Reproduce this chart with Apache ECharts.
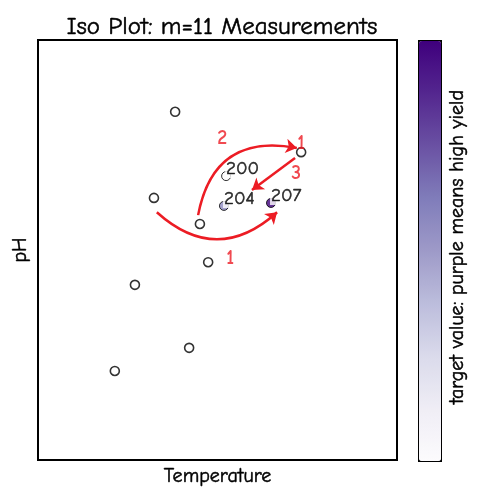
<!DOCTYPE html>
<html>
<head>
<meta charset="utf-8">
<script src="https://cdn.jsdelivr.net/npm/echarts@6/dist/echarts.min.js"></script>
<style>
  html, body { margin: 0; padding: 0; background: #fff; }
  #main { width: 500px; height: 500px; }
</style>
</head>
<body>
<div id="main"></div>
<script>
// measurements without a target value (normalized temperature, pH)
const openPoints = [
  [0.382, 0.829], [0.733, 0.733], [0.323, 0.624], [0.451, 0.562],
  [0.474, 0.471], [0.270, 0.417], [0.421, 0.267], [0.214, 0.212]
];
// measurements with target value: [temperature, pH, yield]
const yieldPoints = [
  [0.524, 0.676, 200],
  [0.518, 0.605, 204],
  [0.649, 0.612, 207]
];
// red hand-drawn arrows: [from, to, curveness]
const arrows = [
  [[0.331, 0.590], [0.666, 0.590], -0.45],
  [[0.446, 0.583], [0.721, 0.743], 0.5],
  [[0.716, 0.719], [0.596, 0.643], 0]
];
const arrowLabels = [
  [0.535, 0.481, '1'],
  [0.513, 0.767, '2'],
  [0.719, 0.683, '3'],
  [0.733, 0.755, '1']
];
const purples = ['#fcfbfd', '#efedf5', '#dadaeb', '#bcbddc', '#9e9ac8',
  '#807dba', '#6a51a3', '#54278f', '#3f007d'];

const font = '"Comic Sans MS", "Comic Neue", "DejaVu Sans", sans-serif';
// slight stroke so the thin fallback font reads as dark as the original
const ink = { color: '#000', textBorderColor: '#000', textBorderWidth: 0.5 };

const chart = echarts.init(document.getElementById('main'));

const option = {
  backgroundColor: '#fff',
  animation: false,
  textStyle: { fontFamily: font },
  title: {
    text: 'Iso Plot: m=11 Measurements',
    left: 217,
    textAlign: 'center',
    top: 9,
    textStyle: Object.assign({ fontFamily: font, fontSize: 25, fontWeight: 'normal' }, ink)
  },
  grid: {
    left: 38, top: 40, width: 359, height: 420,
    show: true, borderColor: '#000', borderWidth: 2, backgroundColor: '#fff'
  },
  xAxis: {
    type: 'value', min: 0, max: 1,
    name: 'Temperature', nameLocation: 'middle', nameGap: 6,
    nameTextStyle: Object.assign({ fontFamily: font, fontSize: 20, verticalAlign: 'top' }, ink),
    axisLine: { show: false }, axisTick: { show: false },
    axisLabel: { show: false }, splitLine: { show: false }
  },
  yAxis: {
    type: 'value', min: 0, max: 1,
    name: 'pH', nameLocation: 'middle', nameGap: 8,
    nameTextStyle: Object.assign({ fontFamily: font, fontSize: 20 }, ink),
    axisLine: { show: false }, axisTick: { show: false },
    axisLabel: { show: false }, splitLine: { show: false }
  },
  visualMap: {
    type: 'continuous',
    min: 200, max: 207,
    dimension: 2,
    seriesIndex: 1,
    left: 418, top: 40,
    itemWidth: 22, itemHeight: 420,
    padding: 0,
    calculable: false,
    text: null,
    showLabel: false,
    borderColor: '#000', borderWidth: 2,
    inRange: { color: purples }
  },
  graphic: [{
    type: 'text',
    x: 447, y: 247,
    rotation: Math.PI / 2,
    style: {
      text: 'target value: purple means high yield',
      fontFamily: font, fontSize: 20, fill: '#000',
      stroke: '#000', lineWidth: 0.5,
      align: 'center', verticalAlign: 'top'
    }
  }],
  series: [{
    type: 'scatter',
    data: openPoints,
    symbolSize: 9,
    itemStyle: { color: '#fff', borderColor: '#000', borderWidth: 1.6 },
    z: 3
  }, {
    type: 'scatter',
    data: yieldPoints,
    symbolSize: 9,
    itemStyle: { borderColor: '#000', borderWidth: 1 },
    label: Object.assign({
      show: true, position: [4, -12],
      formatter: p => String(p.value[2]),
      fontFamily: font, fontSize: 19,
      backgroundColor: '#fff', padding: [0, 1, 0, 1]
    }, ink),
    z: 3
  }, {
    type: 'lines',
    coordinateSystem: 'cartesian2d',
    symbol: ['none', 'arrow'],
    symbolSize: 11,
    data: arrows.map(a => ({
      coords: [a[0], a[1]],
      lineStyle: { curveness: a[2] }
    })),
    lineStyle: { color: '#ec1c24', width: 2.5, opacity: 1 },
    z: 4
  }, {
    type: 'scatter',
    data: arrowLabels.map(l => [l[0], l[1], l[2]]),
    symbolSize: 0,
    label: {
      show: true, position: 'inside',
      formatter: p => p.value[2],
      fontFamily: font, fontSize: 20, fontWeight: 'bold', color: '#ec1c24'
    },
    z: 4
  }]
};

chart.setOption(option);
</script>
</body>
</html>
